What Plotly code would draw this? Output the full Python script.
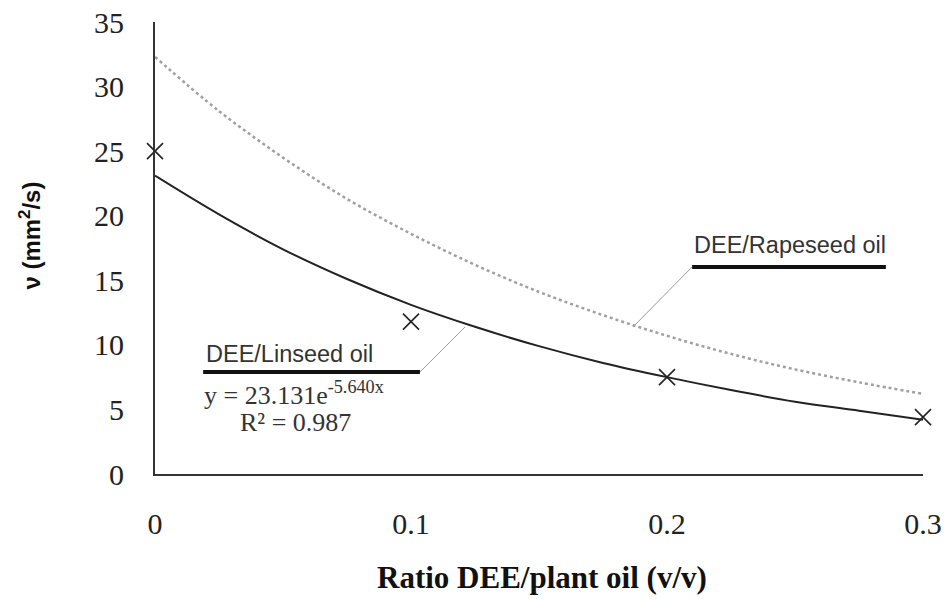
import plotly.graph_objects as go

# Observed data (DEE/Linseed oil)
x_obs = [0.0, 0.1, 0.2, 0.3]
y_obs = [25.0, 11.8, 7.5, 4.4]

# Trend curves
x_fit = [0.0, 0.025, 0.05, 0.075, 0.1, 0.125, 0.15, 0.175, 0.2, 0.225, 0.25, 0.275, 0.3]
linseed_fit = [23.1, 20.1, 17.4, 15.1, 13.1, 11.4, 9.9, 8.6, 7.5, 6.5, 5.6, 4.9, 4.2]
rapeseed_fit = [32.3, 28.1, 24.5, 21.3, 18.6, 16.2, 14.1, 12.3, 10.7, 9.3, 8.1, 7.1, 6.2]

x_ticks = [0, 0.1, 0.2, 0.3]
x_ticklabels = ["0", "0.1", "0.2", "0.3"]
y_ticks = [0, 5, 10, 15, 20, 25, 30, 35]

fig = go.Figure()
fig.add_trace(go.Scatter(x=x_fit, y=rapeseed_fit, mode="lines", line=dict(color="#a0a0a0", width=2.5, dash="dot", shape="spline"), showlegend=False, hoverinfo="skip"))
fig.add_trace(go.Scatter(x=x_fit, y=linseed_fit, mode="lines", line=dict(color="#222222", width=2, shape="spline"), showlegend=False, hoverinfo="skip"))
fig.add_trace(go.Scatter(x=x_obs, y=y_obs, mode="markers", marker=dict(symbol="x-thin", size=16, line=dict(color="#222222", width=1.6)), showlegend=False, cliponaxis=False))

# Label underlines and leader lines
fig.add_shape(type="line", xref="x", yref="y", x0=0.0188, x1=0.1035, y0=7.9, y1=7.9, line=dict(color="#111111", width=4))
fig.add_shape(type="line", xref="x", yref="y", x0=0.1035, x1=0.1211, y0=7.9, y1=11.38, line=dict(color="#999999", width=1))
fig.add_shape(type="line", xref="x", yref="y", x0=0.2098, x1=0.2855, y0=16.03, y1=16.03, line=dict(color="#111111", width=4))
fig.add_shape(type="line", xref="x", yref="y", x0=0.2098, x1=0.1867, y0=16.03, y1=11.38, line=dict(color="#999999", width=1))

fig.add_annotation(x=0.0192, y=9.29, xref="x", yref="y", text="DEE/Linseed oil", showarrow=False, xanchor="left", yanchor="middle",
                   font=dict(family="Liberation Sans", size=23.5, color="#333333"))
fig.add_annotation(x=0.2098, y=17.7, xref="x", yref="y", text="DEE/Rapeseed oil", showarrow=False, xanchor="left", yanchor="middle",
                   font=dict(family="Liberation Sans", size=23.5, color="#333333"))
fig.add_annotation(x=0.0185, y=6.27, xref="x", yref="y", text="y = 23.131e<sup>-5.640x</sup>", showarrow=False, xanchor="left", yanchor="middle",
                   font=dict(family="Liberation Serif", size=26, color="#333333"))
fig.add_annotation(x=0.0325, y=3.95, xref="x", yref="y", text="R² = 0.987", showarrow=False, xanchor="left", yanchor="middle",
                   font=dict(family="Liberation Serif", size=26, color="#333333"))

# Axis titles
fig.add_annotation(x=0.504, y=-0.228, xref="paper", yref="paper", text="<b>Ratio DEE/plant oil (v/v)</b>", showarrow=False,
                   xanchor="center", yanchor="middle", font=dict(family="Liberation Serif", size=31, color="#111111"))
fig.add_annotation(x=-0.163, y=0.527, xref="paper", yref="paper", text="<b>ν (mm<sup>2</sup>/s)</b>", showarrow=False, textangle=-90,
                   xanchor="center", yanchor="middle", font=dict(family="Liberation Sans", size=24, color="#111111"))

fig.update_layout(
    width=944, height=599,
    margin=dict(l=155, r=21, t=22, b=125),
    plot_bgcolor="white", paper_bgcolor="white",
)
fig.update_xaxes(range=[0, 0.3], tickvals=x_ticks, ticktext=x_ticklabels, showgrid=False, zeroline=False, automargin=False,
                 showline=True, linecolor="#333333", linewidth=2, ticks="", ticklabelstandoff=22,
                 tickfont=dict(family="Liberation Serif", size=30, color="#222222"))
fig.update_yaxes(range=[0, 35], tickvals=y_ticks, showgrid=False, zeroline=False, automargin=False,
                 showline=True, linecolor="#333333", linewidth=2, ticks="", ticklabelstandoff=23,
                 tickfont=dict(family="Liberation Serif", size=30, color="#222222"))

fig.write_html("out.html", config={"displayModeBar": False},
               post_script="document.body.style.margin='0px'; document.body.style.overflow='hidden';")
